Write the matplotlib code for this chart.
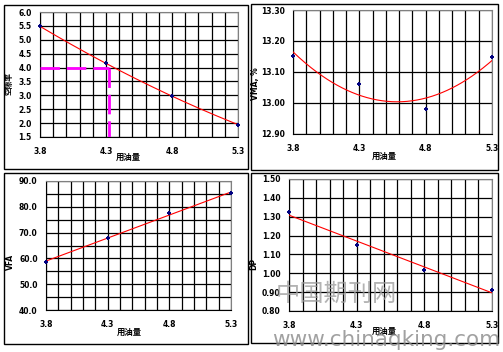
import numpy as np
import matplotlib
matplotlib.use("Agg")
import matplotlib.pyplot as plt
from matplotlib.patches import Rectangle
from matplotlib.ticker import MultipleLocator, FixedLocator, FormatStrFormatter

plt.rcParams['font.family'] = ['DejaVu Sans', 'Noto Sans CJK SC']

# Data
asphalt = [3.8, 4.3, 4.8, 5.3]
x_ticks = [3.8, 4.3, 4.8, 5.3]
voids = [5.48, 4.16, 2.96, 1.95]
vma = [13.153, 13.061, 12.980, 13.149]
vfa = [58.6, 68.1, 77.5, 85.2]
dp = [1.326, 1.152, 1.018, 0.913]

x_label = "用油量"
W, H = 503, 352
fig = plt.figure(figsize=(W / 100, H / 100), dpi=100)


def rect(l, t, r, b):
    return [l / W, 1 - b / H, (r - l) / W, (b - t) / H]


# panel borders
for (l, t, r, b) in [(4, 5, 248, 169), (251, 4, 498, 170), (4, 173, 248, 344), (251, 173, 498, 343)]:
    fig.patches.append(Rectangle((l / W, 1 - b / H), (r - l) / W, (b - t) / H,
                                 transform=fig.transFigure, fill=False,
                                 edgecolor='black', linewidth=1.0))

panels = [
    dict(r=(40, 12, 238, 137), y=voids, ylim=(1.5, 6.0), major=0.5, grid=0.5, fmt='%.1f',
         ylabel='空隙率', deg=2, ylx=9, yly=84, xlx=128, xly=157),
    dict(r=(293, 10, 492, 134), y=vma, ylim=(12.90, 13.30), major=0.1, grid=0.1, fmt='%.2f',
         ylabel='VMA, %', deg=2, ylx=256, yly=84, xlx=384, xly=156),
    dict(r=(46, 181, 231, 310), y=vfa, ylim=(40.0, 90.0), major=10, grid=5, fmt='%.1f',
         ylabel='VFA', deg=1, ylx=10, yly=262, xlx=129, xly=332),
    dict(r=(289, 179, 492, 311), y=dp, ylim=(0.80, 1.50), major=0.1, grid=0.1, fmt='%.2f',
         ylabel='DP', deg=1, ylx=254, yly=264, xlx=384, xly=331),
]

for p in panels:
    l, t, r, b = p['r']
    ax = fig.add_axes(rect(l, t, r, b))
    ax.set_xlim(3.8, 5.3)
    ax.set_ylim(*p['ylim'])
    ax.xaxis.set_major_locator(FixedLocator(x_ticks))
    ax.xaxis.set_major_formatter(FormatStrFormatter('%.1f'))
    ax.xaxis.set_minor_locator(MultipleLocator(0.1))
    ax.yaxis.set_major_locator(MultipleLocator(p['major']))
    ax.yaxis.set_minor_locator(MultipleLocator(p['grid']))
    ax.yaxis.set_major_formatter(FormatStrFormatter(p['fmt']))
    ax.grid(True, which='both', color='black', linewidth=0.9)
    ax.set_axisbelow(True)
    ax.tick_params(which='both', length=0, labelsize=5.5, pad=6)
    for lab in ax.get_xticklabels() + ax.get_yticklabels():
        lab.set_fontweight('bold')
    ax.tick_params(axis='x', pad=7)
    for s in ['left', 'bottom']:
        ax.spines[s].set_color('black')
    for s in ['top', 'right']:
        ax.spines[s].set_color('#808080')
    coef = np.polyfit(asphalt, p['y'], p['deg'])
    xs = np.linspace(3.8, 5.3, 200)
    ax.plot(xs, np.polyval(coef, xs), color='red', linewidth=0.8, zorder=3)
    ax.plot(asphalt, p['y'], linestyle='none', marker='+', color='#000080',
            markersize=3.5, markeredgewidth=1.4, clip_on=False, zorder=4)
    fig.text(p['ylx'] / W, 1 - p['yly'] / H, p['ylabel'], rotation=90,
             ha='center', va='center', fontsize=5.5, fontweight='bold')
    fig.text(p['xlx'] / W, 1 - p['xly'] / H, x_label, ha='center', va='center',
             fontsize=6, fontweight='bold')
    if p['ylabel'] == '空隙率':
        xv = 4.32
        ax.plot([3.8, xv], [4.0, 4.0], color='#ff00ff', linewidth=2, dashes=(7, 2.5), zorder=5)
        ax.plot([xv, xv], [4.0, 1.5], color='#ff00ff', linewidth=2, dashes=(7, 2.5), zorder=5)

# watermarks
fig.text(276 / W, 1 - 294 / H, '中国期刊网', fontsize=17.5, color='#9a9a9a', alpha=0.75,
         family=['Noto Sans CJK SC'], ha='left', va='center')
fig.text(272 / W, 1 - 340 / H, 'www.chinaqking.com', fontsize=15.5, color='#8a8a8a', alpha=0.8,
         family=['DejaVu Sans'], ha='left', va='center')

fig.savefig('out.png', dpi=100)
